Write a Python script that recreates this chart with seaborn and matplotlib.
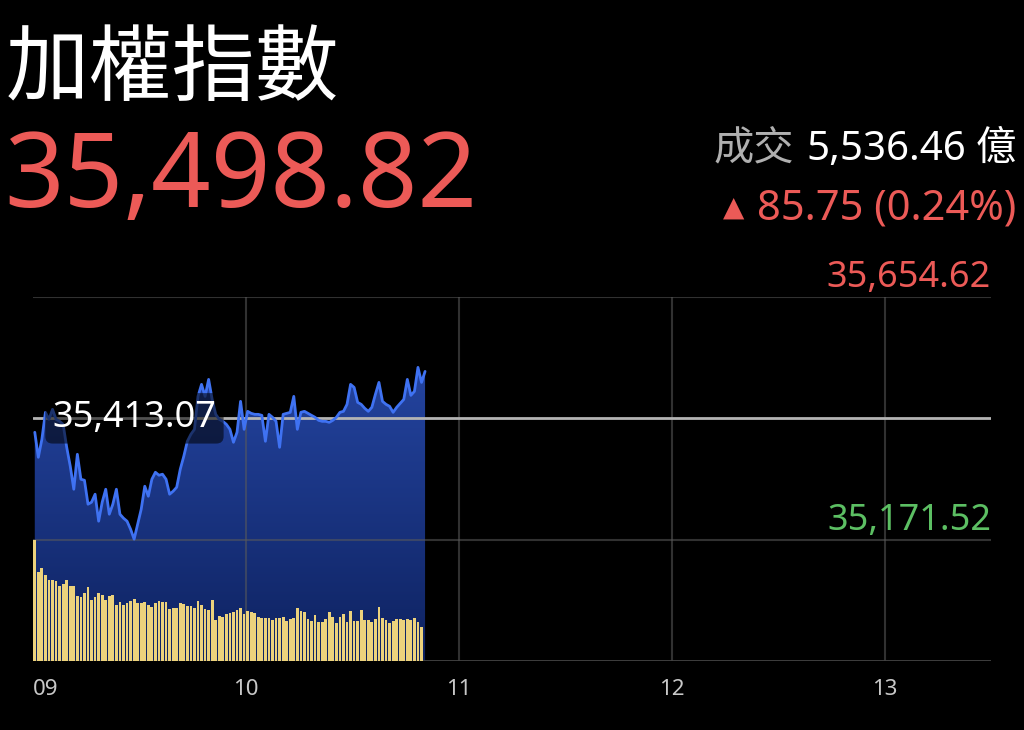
import numpy as np
import pandas as pd
import matplotlib
matplotlib.use("Agg")
import matplotlib.pyplot as plt
import matplotlib.colors as mcolors
import seaborn as sns

# ---------------- data ----------------
title = "加權指數"
last_price = "35,498.82"
turnover_label = "成交"
turnover_value = "5,536.46"
turnover_unit = "億"
change_text = "85.75 (0.24%)"
prev_close = 35413.07
high_label_value = 35654.62
low_label_value = 35171.52
hour_ticks = [0, 60, 120, 180, 240]          # minutes after 09:00
hour_labels = ["09", "10", "11", "12", "13"]
session_minutes = 270                         # 09:00 - 13:30

price = [
    35385.3, 35335.5, 35371.3, 35425.0, 35411.1, 35431.0, 35411.1, 35407.1, 35401.1, 35355.4,
    35317.7, 35271.9, 35341.5, 35291.8, 35289.8, 35242.1, 35246.1, 35262.0, 35208.3, 35246.1,
    35271.9, 35222.2, 35242.1, 35271.9, 35222.2, 35214.3, 35208.3, 35192.4, 35172.5, 35202.4,
    35232.2, 35277.9, 35258.0, 35291.8, 35305.7, 35299.8, 35301.8, 35291.8, 35262.0, 35268.0,
    35275.9, 35311.7, 35337.6, 35367.4, 35381.3, 35391.2, 35456.8, 35480.7, 35456.8, 35490.6,
    35450.8, 35421.0, 35411.1, 35407.1, 35401.1, 35391.2, 35365.4, 35385.3, 35446.9, 35391.2,
    35427.0, 35423.0, 35421.0, 35421.0, 35419.0, 35367.4, 35421.0, 35415.1, 35407.1, 35355.4,
    35421.0, 35423.0, 35425.0, 35456.8, 35391.2, 35425.0, 35427.0, 35423.0, 35419.0, 35415.1,
    35409.1, 35407.1, 35407.1, 35405.1, 35409.1, 35415.1, 35425.0, 35427.0, 35440.9, 35480.7,
    35474.7, 35444.9, 35440.9, 35433.0, 35427.0, 35435.0, 35460.8, 35484.6, 35446.9, 35440.9,
    35437.0, 35425.0, 35435.0, 35442.9, 35450.8, 35490.6, 35458.8, 35466.8, 35514.5, 35484.6,
    35506.5,
]

volume = [  # 億 per minute
    121, 89, 93, 86, 81, 81, 80, 75, 77, 81,
    75, 75, 65, 64, 68, 74, 61, 64, 68, 66,
    61, 65, 66, 56, 59, 56, 58, 60, 62, 58,
    58, 59, 56, 54, 58, 60, 59, 59, 52, 53,
    53, 58, 57, 55, 55, 53, 60, 56, 52, 51,
    61, 41, 45, 44, 47, 48, 49, 51, 53, 47,
    50, 49, 48, 44, 43, 43, 43, 41, 43, 43,
    44, 40, 42, 43, 53, 50, 49, 42, 40, 46,
    39, 39, 42, 49, 44, 38, 44, 47, 39, 50,
    40, 40, 51, 41, 41, 39, 42, 54, 43, 41,
    38, 40, 42, 42, 41, 42, 41, 43, 39, 34,
]

# ---------------- style ----------------
sns.set_theme(style="dark")
FONTS = ["Noto Sans", "Noto Sans CJK TC", "DejaVu Sans"]
plt.rcParams["font.family"] = FONTS

BG = "#000000"
RED = "#ec5a57"
GREEN = "#5cbf63"
LINE = "#3f72f2"
BAR = "#ecd27c"

fig = plt.figure(figsize=(10.24, 7.30), dpi=100, facecolor=BG)
W, H = 1024, 730
ax = fig.add_axes([33 / W, (H - 661) / H, 958 / W, 364 / H])
ax.set_facecolor(BG)

step = high_label_value - prev_close
ymin, ymax = prev_close - 2 * step, high_label_value
ax.set_xlim(0, session_minutes)
ax.set_ylim(ymin, ymax)

df = pd.DataFrame({"minute": np.arange(len(price)) + 0.5, "price": price})

# gradient area under the line
poly = ax.fill_between(df["minute"], df["price"], ymin, color="none", lw=0)
grad = np.linspace(0, 1, 256).reshape(-1, 1)
cmap = mcolors.LinearSegmentedColormap.from_list("g", ["#0e2260", "#24449f"])
im = ax.imshow(grad, extent=[0, len(price), ymin, max(price)], origin="lower",
               aspect="auto", cmap=cmap, zorder=1)
im.set_clip_path(poly.get_paths()[0], transform=ax.transData)

# grid
for t in hour_ticks[1:]:
    ax.axvline(t, color="#5a5a5a", lw=1.5, alpha=0.55, zorder=2)
for yv in (high_label_value, low_label_value):
    ax.axhline(yv, color="#5a5a5a", lw=1.5, alpha=0.55, zorder=2)
ax.axhline(ymin, color="#444444", lw=2, zorder=2)
ax.axhline(prev_close, color="#b4b4b4", lw=2, zorder=3)

sns.lineplot(data=df, x="minute", y="price", ax=ax, color=LINE, lw=2, zorder=4)

# volume bars on twin axis
ax2 = ax.twinx()
ax2.set_ylim(0, 364)
ax2.bar(np.arange(len(volume)) + 0.5, volume, width=0.78, color=BAR, lw=0, zorder=5)
ax2.set_yticks([])
ax2.set_xlim(0, session_minutes)
for s in ax2.spines.values():
    s.set_visible(False)

# axes cosmetics
for s in ax.spines.values():
    s.set_visible(False)
ax.set_yticks([])
ax.set_xlabel("")
ax.set_ylabel("")
ax.grid(False)
ax.set_xticks(hour_ticks)
ax.set_xticklabels(hour_labels)
ax.tick_params(axis="x", length=0, pad=13, labelsize=16, labelcolor="#c8c8c8")
ax.get_xticklabels()[0].set_ha("left")

# price labels
ax.text(5.5, prev_close, f"{prev_close:,.2f}", color="white", fontsize=26,
        va="center", ha="left", zorder=6,
        bbox=dict(boxstyle="round,pad=0.2", fc="#000000", ec="none", alpha=0.55))
ax.annotate(f"{high_label_value:,.2f}", xy=(1, high_label_value), xycoords=ax.get_yaxis_transform(),
            xytext=(0, 1), textcoords="offset pixels", ha="right", va="bottom",
            color=RED, fontsize=26)
ax.annotate(f"{low_label_value:,.2f}", xy=(1, low_label_value), xycoords=ax.get_yaxis_transform(),
            xytext=(0, 1), textcoords="offset pixels", ha="right", va="bottom",
            color=GREEN, fontsize=26)

# header texts
def fy(y):
    return 1 - y / H

fig.text(6 / W, fy(70), title, color="white", fontsize=60, va="center", ha="left",
         family=["Noto Sans CJK TC"], fontweight="medium")
fig.text(4 / W, fy(180), last_price, color=RED, fontsize=75, va="center", ha="left",
         fontweight="medium")

renderer = fig.canvas.get_renderer()

def chain(parts, x_right, y_center, size):
    """Place text pieces right-to-left; gap = space left of each piece."""
    xr = x_right
    for txt, color, gap, kw in reversed(parts):
        opts = dict(color=color, fontsize=size, va="center", ha="right")
        opts.update(kw)
        t = fig.text(xr / W, fy(y_center), txt, **opts)
        bb = t.get_window_extent(renderer)
        xr = bb.x0 - gap

chain([(turnover_label, "#b0b0b0", 0, {}),
       (turnover_value, "white", 12, {}),
       (turnover_unit, "white", 10, {})], 1016, 150, 29)
chain([("▲", RED, 0, {"fontsize": 20, "family": ["DejaVu Sans"]}),
       (change_text, RED, 12, {})], 1016, 208, 30)

fig.savefig("out.png", dpi=100, facecolor=BG)
